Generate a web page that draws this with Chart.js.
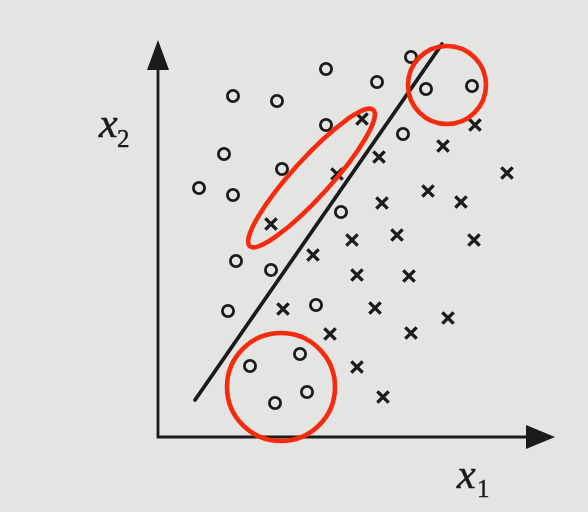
<!DOCTYPE html>
<html>
<head>
<meta charset="utf-8">
<script src="https://cdn.jsdelivr.net/npm/chart.js@4/dist/chart.umd.min.js"></script>
<style>
  html, body { margin: 0; padding: 0; background: #e4e4e3; }
  #wrap { position: relative; width: 588px; height: 512px; }
  .lbl { position: absolute; font-family: "Liberation Serif", serif; color: #1b1b1b; white-space: nowrap; }
  .lbl.var { font-size: 42px; line-height: 42px; font-style: italic; -webkit-text-stroke: 0.5px #1b1b1b; }
  .lbl.idx { font-size: 25px; line-height: 25px; -webkit-text-stroke: 0.4px #1b1b1b; }
</style>
</head>
<body>
<div id="wrap">
  <canvas id="chart" width="588" height="512"></canvas>
  <span class="lbl var" style="left:99px; top:102px">x</span>
  <span class="lbl idx" style="left:117px; top:126px">2</span>
  <span class="lbl var" style="left:457px; top:453px">x</span>
  <span class="lbl idx" style="left:477px; top:476px">1</span>
</div>
<script>
/* Two-class scatter with a linear boundary and a few marked groups */

// class "o" samples (x1, x2)
const circleX = [75, 119, 168, 219, 253, 268, 314, 168, 245, 66, 124, 41, 75, 183, 78, 113, 158, 70, 92, 142, 149, 117];
const circleY = [341, 336, 368, 355, 380, 348, 351, 312, 303, 283, 268, 249, 242, 225, 176, 167, 132, 126, 71, 83, 45, 34];

// class "x" samples (x1, x2)
const crossX = [204, 221, 285, 317, 349, 179, 113, 270, 224, 303, 194, 239, 316, 155, 199, 251, 125, 217, 290, 172, 253, 199, 225];
const crossY = [318, 280, 291, 312, 264, 263, 213, 246, 234, 235, 197, 202, 197, 182, 162, 161, 128, 129, 119, 103, 104, 70, 40];

// decision boundary end points
const lineX = [37, 284];
const lineY = [37, 393];

// highlighted groups: centre, radii (data units), tilt in degrees
const ringX = [289, 123];
const ringY = [352, 50];
const ringR = [39, 54];
const ovalCenter = [153.5, 259];
const ovalRadii = [92, 19];
const ovalTilt = -47.8;

const INK = '#1b1b1b';
const RED = '#f62a0c';

const zip = (xs, ys) => xs.map((x, i) => ({ x, y: ys[i] }));

// axes with arrowheads, red group markings on top
const axesPlugin = {
  id: 'axes',
  beforeDatasetsDraw(chart) {
    const { ctx, scales: { x, y } } = chart;
    const ox = x.getPixelForValue(0), oy = y.getPixelForValue(0);
    const top = y.getPixelForValue(397);
    const right = x.getPixelForValue(397);
    ctx.save();
    ctx.strokeStyle = INK;
    ctx.fillStyle = INK;
    ctx.lineWidth = 2.8;
    ctx.beginPath();
    ctx.moveTo(ox, top + 26);
    ctx.lineTo(ox, oy);
    ctx.lineTo(right - 28, oy);
    ctx.stroke();

    ctx.beginPath();
    ctx.moveTo(ox, top);
    ctx.lineTo(ox - 11, top + 30);
    ctx.lineTo(ox + 11, top + 30);
    ctx.closePath();
    ctx.fill();

    ctx.beginPath();
    ctx.moveTo(right, oy);
    ctx.lineTo(right - 29, oy - 12);
    ctx.lineTo(right - 29, oy + 12);
    ctx.closePath();
    ctx.fill();
    ctx.restore();
  },
  afterDatasetsDraw(chart) {
    const { ctx, scales: { x, y } } = chart;
    ctx.save();
    ctx.strokeStyle = RED;
    ctx.lineWidth = 4.6;
    ringX.forEach((cx, i) => {
      const px = x.getPixelForValue(cx), py = y.getPixelForValue(ringY[i]);
      const r = x.getPixelForValue(ringR[i]) - x.getPixelForValue(0);
      ctx.beginPath();
      ctx.arc(px, py, r, 0, Math.PI * 2);
      ctx.stroke();
    });
    const ex = x.getPixelForValue(ovalCenter[0]), ey = y.getPixelForValue(ovalCenter[1]);
    const rx = x.getPixelForValue(ovalRadii[0]) - x.getPixelForValue(0);
    const ry = x.getPixelForValue(ovalRadii[1]) - x.getPixelForValue(0);
    ctx.beginPath();
    ctx.ellipse(ex, ey, rx, ry, ovalTilt * Math.PI / 180, 0, Math.PI * 2);
    ctx.stroke();
    ctx.restore();
  }
};

new Chart(document.getElementById('chart'), {
  type: 'scatter',
  data: {
    datasets: [
      {
        type: 'line',
        data: zip(lineX, lineY),
        borderColor: INK,
        borderWidth: 3.8,
        pointRadius: 0,
        borderCapStyle: 'round',
      },
      {
        data: zip(circleX, circleY),
        pointStyle: 'circle',
        pointRadius: 5.6,
        borderWidth: 2.8,
        borderColor: INK,
        backgroundColor: 'rgba(0,0,0,0)',
      },
      {
        data: zip(crossX, crossY),
        pointStyle: 'crossRot',
        pointRadius: 8,
        borderWidth: 3.4,
        borderColor: INK,
      },
    ],
  },
  options: {
    responsive: false,
    animation: false,
    events: [],
    layout: { padding: { left: 158, top: 40, right: 30, bottom: 75 } },
    scales: {
      x: { type: 'linear', min: 0, max: 400, display: false },
      y: { type: 'linear', min: 0, max: 397, display: false },
    },
    plugins: {
      legend: { display: false },
      tooltip: { enabled: false },
    },
  },
  plugins: [axesPlugin],
});
</script>
</body>
</html>
